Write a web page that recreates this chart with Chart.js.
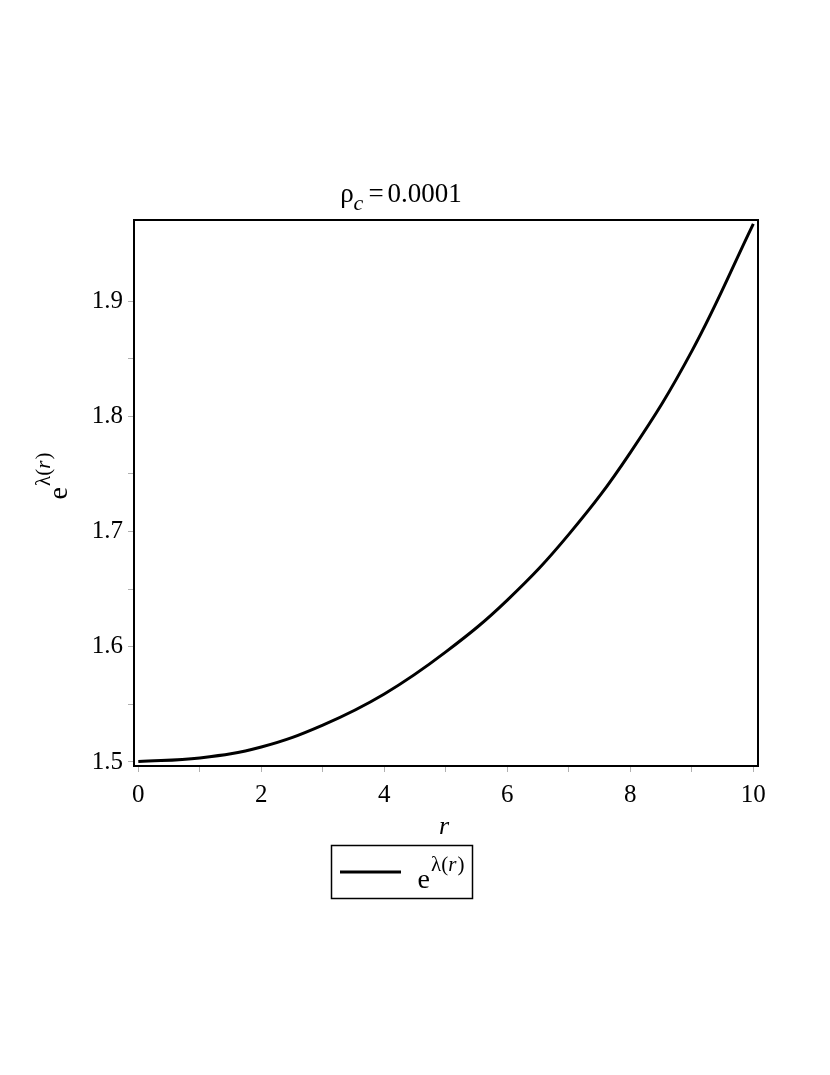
<!DOCTYPE html>
<html>
<head>
<meta charset="utf-8">
<script src="https://cdn.jsdelivr.net/npm/chart.js@4"></script>
<style>
html, body { margin: 0; padding: 0; background: #fff; }
#wrap { width: 830px; height: 1075px; position: relative; }
</style>
</head>
<body>
<div id="wrap"><canvas id="chart"></canvas></div>
<script>
// values
const rValues = [0, 1, 2, 3, 4, 5, 6, 7, 8, 9, 10];
const expLambda = [1.5005, 1.5035, 1.513, 1.532, 1.559, 1.5955, 1.6405, 1.6975, 1.7685, 1.8565, 1.967];

const xTickValues = [0, 1, 2, 3, 4, 5, 6, 7, 8, 9, 10];
const xTickLabels = [0, 2, 4, 6, 8, 10];
const yTickValues = [1.5, 1.55, 1.6, 1.65, 1.7, 1.75, 1.8, 1.85, 1.9];
const yTickLabels = ["1.5", "1.6", "1.7", "1.8", "1.9"];

const serif = '"Liberation Serif", "DejaVu Serif", serif';

// draws a row of text pieces (for sub/superscripts), centered on x
function drawPieces(ctx, pieces, x, y) {
    let total = 0;
    pieces.forEach(p => {
        ctx.font = p.font;
        p.w = ctx.measureText(p.text).width;
        total += p.w + (p.gap || 0);
    });
    let cx = x - total / 2;
    ctx.textAlign = "left";
    ctx.textBaseline = "alphabetic";
    pieces.forEach(p => {
        ctx.font = p.font;
        ctx.fillText(p.text, cx, y + (p.dy || 0));
        cx += p.w + (p.gap || 0);
    });
}

function expLambdaPieces(big, small, rise) {
    return [
        { text: "e", font: big + "px " + serif, gap: 1 },
        { text: "λ(", font: small + "px " + serif, dy: -rise },
        { text: "r", font: "italic " + small + "px " + serif, dy: -rise, gap: 1 },
        { text: ")", font: small + "px " + serif, dy: -rise }
    ];
}

const decorPlugin = {
    id: "decor",
    afterDatasetsDraw(chart) {
        const ctx = chart.ctx;
        const a = chart.chartArea;
        ctx.save();
        ctx.strokeStyle = "#000";
        ctx.lineWidth = 2;
        ctx.strokeRect(a.left, a.top, a.right - a.left, a.bottom - a.top);

        ctx.fillStyle = "#000";
        // title
        drawPieces(ctx, [
            { text: "ρ", font: "27px " + serif },
            { text: "c", font: "italic 22px " + serif, dy: 8, gap: 5 },
            { text: "=", font: "27px " + serif, gap: 4 },
            { text: "0.0001", font: "27px " + serif }
        ], 401, 202);

        // x axis title
        ctx.font = "italic 26px " + serif;
        ctx.textAlign = "center";
        ctx.fillText("r", 444, 834);

        // y axis title
        ctx.save();
        ctx.translate(67, 476);
        ctx.rotate(-Math.PI / 2);
        drawPieces(ctx, expLambdaPieces(28, 21, 17), 0, 0);
        ctx.restore();

        // legend
        ctx.lineWidth = 1.5;
        ctx.strokeRect(331.5, 845.5, 141, 53);
        ctx.lineWidth = 3;
        ctx.beginPath();
        ctx.moveTo(340, 872);
        ctx.lineTo(401, 872);
        ctx.stroke();
        drawPieces(ctx, expLambdaPieces(28, 21, 17), 441, 888);
        ctx.restore();
    }
};

new Chart(document.getElementById("chart"), {
    type: "line",
    data: {
        labels: rValues,
        datasets: [{
            label: "e^λ(r)",
            data: rValues.map((r, i) => ({ x: r, y: expLambda[i] })),
            borderColor: "#000",
            borderWidth: 3,
            pointRadius: 0,
            tension: 0.4,
            fill: false
        }]
    },
    options: {
        responsive: true,
        maintainAspectRatio: false,
        animation: false,
        layout: { padding: { top: 220, right: 72, left: 0, bottom: 0 } },
        plugins: {
            legend: { display: false },
            title: { display: false },
            tooltip: { enabled: false }
        },
        scales: {
            x: {
                type: "linear",
                min: -0.07,
                max: 10.076,
                afterBuildTicks: scale => { scale.ticks = xTickValues.map(v => ({ value: v })); },
                afterFit: scale => { scale.height = 309; },
                ticks: {
                    autoSkip: false,
                    maxRotation: 0,
                    padding: 8,
                    color: "#000",
                    font: { family: serif, size: 25 },
                    callback: v => xTickLabels.includes(v) ? String(v) : ""
                },
                grid: { drawOnChartArea: false, drawTicks: true, tickLength: 6, tickColor: "#b0b0b0" },
                border: { display: false }
            },
            y: {
                type: "linear",
                min: 1.4965,
                max: 1.9703,
                afterBuildTicks: scale => { scale.ticks = yTickValues.map(v => ({ value: v })); },
                afterFit: scale => { scale.width = 134; },
                ticks: {
                    autoSkip: false,
                    padding: 5,
                    color: "#000",
                    font: { family: serif, size: 25 },
                    callback: v => {
                        const s = v.toFixed(1);
                        return (Math.abs(v * 10 - Math.round(v * 10)) < 1e-6 && yTickLabels.includes(s)) ? s : "";
                    }
                },
                grid: { drawOnChartArea: false, drawTicks: true, tickLength: 6, tickColor: "#b0b0b0" },
                border: { display: false }
            }
        }
    },
    plugins: [decorPlugin]
});
</script>
</body>
</html>
